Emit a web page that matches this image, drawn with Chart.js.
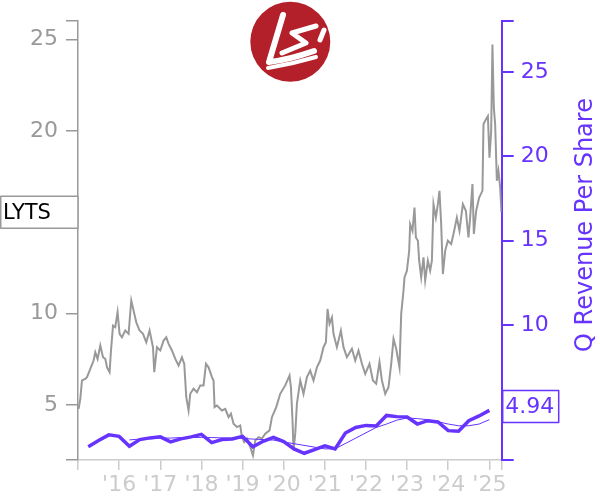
<!DOCTYPE html>
<html><head><meta charset="utf-8">
<script src="https://cdn.jsdelivr.net/npm/chart.js@4.4.1/dist/chart.umd.min.js"></script>
<style>html,body{margin:0;padding:0;background:#fff;}canvas{display:block;}</style>
</head><body>
<canvas id="c" width="600" height="500"></canvas>
<script>
// ---- data ----
const ticker = 'LYTS';
const rightAxisTitle = 'Q Revenue Per Share';
const xTickYears = [2015, 2016, 2017, 2018, 2019, 2020, 2021, 2022, 2023, 2024, 2025];
const xRange = [2015, 2025.3];
const leftRange = [2, 26];
const rightRange = [2, 28];
const leftTickValues = [2, 5, 10, 15, 20, 25, 26];
const rightTickValues = [2, 5, 10, 15, 20, 25, 28];

const priceDates = [
  2015.015, 2015.056, 2015.097, 2015.177, 2015.219, 2015.299, 2015.379, 2015.420, 2015.476, 2015.542,
  2015.608, 2015.663, 2015.705, 2015.768, 2015.802, 2015.851, 2015.906, 2015.962, 2016.011, 2016.069,
  2016.149, 2016.230, 2016.271, 2016.295, 2016.351, 2016.417, 2016.497, 2016.580, 2016.660, 2016.740,
  2016.823, 2016.854, 2016.920, 2017.000, 2017.080, 2017.146, 2017.202, 2017.284, 2017.365, 2017.445,
  2017.527, 2017.583, 2017.632, 2017.688, 2017.729, 2017.809, 2017.892, 2017.972, 2018.052, 2018.111,
  2018.174, 2018.256, 2018.295, 2018.320, 2018.378, 2018.499, 2018.580, 2018.660, 2018.718, 2018.781,
  2018.864, 2018.944, 2018.985, 2019.041, 2019.107, 2019.187, 2019.253, 2019.309, 2019.389, 2019.471,
  2019.552, 2019.656, 2019.714, 2019.819, 2019.916, 2020.038, 2020.142, 2020.176, 2020.215, 2020.239,
  2020.281, 2020.322, 2020.403, 2020.482, 2020.565, 2020.645, 2020.725, 2020.808, 2020.888, 2020.968,
  2021.027, 2021.066, 2021.114, 2021.173, 2021.211, 2021.294, 2021.391, 2021.454, 2021.537, 2021.659,
  2021.739, 2021.819, 2021.902, 2021.982, 2022.086, 2022.169, 2022.249, 2022.329, 2022.388, 2022.468,
  2022.548, 2022.614, 2022.670, 2022.735, 2022.815, 2022.857, 2022.913, 2022.937, 2022.995, 2023.051,
  2023.075, 2023.131, 2023.180, 2023.214, 2023.263, 2023.294, 2023.343, 2023.399, 2023.440, 2023.505,
  2023.561, 2023.603, 2023.642, 2023.700, 2023.749, 2023.787, 2023.829, 2023.870, 2023.926, 2023.991,
  2024.072, 2024.128, 2024.210, 2024.273, 2024.356, 2024.429, 2024.492, 2024.533, 2024.589, 2024.623,
  2024.679, 2024.752, 2024.832, 2024.857, 2024.915, 2024.964, 2025.003, 2025.044, 2025.075, 2025.109,
  2025.141, 2025.182, 2025.221, 2025.263, 2025.294
];
const priceValues = [
  4.80, 5.35, 6.35, 6.44, 6.53, 6.99, 7.44, 7.89, 7.53, 8.26,
  7.62, 7.53, 7.07, 6.80, 7.99, 9.35, 9.26, 10.08, 8.90, 8.71,
  9.08, 8.90, 10.08, 10.72, 10.17, 9.53, 9.08, 8.90, 8.44, 9.08,
  8.17, 6.80, 8.17, 7.99, 8.53, 8.71, 8.35, 7.99, 7.53, 7.17,
  7.62, 7.26, 5.44, 4.71, 5.62, 5.90, 5.71, 6.08, 6.08, 7.26,
  7.07, 6.53, 6.35, 4.89, 4.98, 4.71, 4.80, 4.34, 4.53, 3.98,
  3.80, 3.89, 3.25, 2.98, 3.17, 2.71, 2.25, 3.07, 3.25, 3.17,
  3.44, 3.62, 4.34, 4.89, 5.62, 6.08, 6.62, 5.98, 4.16, 2.53,
  3.44, 5.08, 6.35, 5.62, 6.53, 6.89, 6.35, 7.07, 7.44, 8.17,
  8.44, 10.26, 9.44, 9.80, 8.90, 8.17, 9.08, 8.17, 7.62, 8.08,
  7.44, 7.99, 7.26, 6.71, 7.26, 6.35, 6.17, 7.35, 6.35, 5.62,
  5.98, 7.26, 8.62, 8.08, 7.07, 9.99, 11.26, 11.99, 12.35, 13.44,
  14.90, 14.54, 15.81, 14.17, 13.99, 12.90, 11.99, 13.08, 11.81, 12.90,
  12.35, 12.90, 15.99, 15.26, 15.99, 16.72, 14.90, 12.17, 13.44, 13.99,
  13.81, 14.36, 15.26, 14.54, 15.99, 15.63, 14.17, 15.26, 17.09, 14.36,
  15.63, 16.35, 16.72, 20.36, 20.63, 20.81, 18.54, 19.99, 24.73, 21.27,
  20.36, 17.27, 17.81, 16.90, 15.55
];

const revDates = [
  2015.25, 2015.50, 2015.75, 2016.00, 2016.25, 2016.50, 2016.75, 2017.00, 2017.25, 2017.50,
  2017.75, 2018.00, 2018.25, 2018.50, 2018.75, 2019.00, 2019.25, 2019.50, 2019.75, 2020.00,
  2020.25, 2020.50, 2020.75, 2021.00, 2021.25, 2021.50, 2021.75, 2022.00, 2022.25, 2022.50,
  2022.75, 2023.00, 2023.25, 2023.50, 2023.75, 2024.00, 2024.25, 2024.50, 2024.75, 2025.00
];
const revValues = [
  2.79, 3.15, 3.49, 3.40, 2.81, 3.21, 3.31, 3.37, 3.07, 3.25,
  3.37, 3.52, 3.03, 3.21, 3.25, 3.40, 2.78, 3.11, 3.34, 3.09,
  2.66, 2.40, 2.62, 2.84, 2.66, 3.60, 3.93, 4.05, 4.02, 4.64,
  4.57, 4.55, 4.13, 4.33, 4.25, 3.74, 3.70, 4.33, 4.61, 4.94
];
const revTrend = [
  null, null, null, null, 3.19, 3.24, 3.27, 3.30, 3.30, 3.33,
  3.33, 3.34, 3.33, 3.31, 3.30, 3.28, 3.24, 3.21, 3.18, 3.07,
  null, null, null, 2.66, 2.66, null, null, null, 3.93, 4.13,
  4.36, 4.49, 4.45, 4.39, 4.27, 4.13, 4.03, 4.03, 4.13, 4.39
];

// ---- styling ----
const FONT = 'DejaVu Sans';
const PURPLE = '#6633ff';
const GREY = '#999999';
const LIGHT = '#cccccc';

const toXY = (xs, ys) => xs.map((x, i) => ({x: x, y: ys[i]}));

const overlay = {
  id: 'overlay',
  afterDraw(chart) {
    const ctx = chart.ctx;
    const ca = chart.chartArea;
    const yL = chart.scales.y;
    const yR = chart.scales.y1;
    ctx.save();
    // logo
    ctx.fillStyle = '#b3202a';
    ctx.beginPath();
    ctx.arc(290.3, 41.7, 40, 0, Math.PI * 2);
    ctx.fill();
    ctx.strokeStyle = '#ffffff';
    ctx.lineCap = 'round';
    ctx.lineJoin = 'round';
    ctx.lineWidth = 6;
    ctx.beginPath();
    ctx.moveTo(283, 15); ctx.lineTo(269, 62);
    ctx.quadraticCurveTo(288, 60, 314, 51);
    ctx.stroke();
    ctx.lineWidth = 4;
    ctx.beginPath();
    ctx.moveTo(268, 68); ctx.quadraticCurveTo(292, 64, 316, 57);
    ctx.stroke();
    ctx.lineWidth = 5;
    ctx.beginPath();
    ctx.moveTo(316, 26); ctx.lineTo(292, 33); ctx.lineTo(306, 43); ctx.lineTo(282, 53);
    ctx.stroke();
    ctx.beginPath();
    ctx.moveTo(324, 30); ctx.lineTo(320, 40);
    ctx.stroke();

    // ticker label at last price
    const lastP = priceValues[priceValues.length - 1];
    const py = yL.getPixelForValue(lastP);
    ctx.fillStyle = '#ffffff';
    ctx.fillRect(0, py - 16, ca.left, 32);
    ctx.strokeStyle = GREY;
    ctx.lineWidth = 1.5;
    ctx.strokeRect(0.75, py - 16, ca.left - 0.75, 32);
    ctx.fillStyle = '#000000';
    ctx.font = '21px "' + FONT + '"';
    ctx.textBaseline = 'middle';
    ctx.textAlign = 'left';
    ctx.fillText(ticker, 3, py + 1);

    // last revenue label
    const lastR = revValues[revValues.length - 1];
    const ry = yR.getPixelForValue(lastR) - 4;
    ctx.fillStyle = '#ffffff';
    ctx.fillRect(ca.right + 1, ry - 16, 56, 32);
    ctx.strokeStyle = PURPLE;
    ctx.lineWidth = 1.5;
    ctx.strokeRect(ca.right + 1, ry - 16, 56, 32);
    ctx.fillStyle = PURPLE;
    ctx.font = '22px "' + FONT + '"';
    ctx.fillText(lastR.toFixed(2), ca.right + 3.5, ry + 1);

    // right axis title
    ctx.translate(592, (98 + 352) / 2);
    ctx.rotate(-Math.PI / 2);
    ctx.textAlign = 'center';
    ctx.textBaseline = 'alphabetic';
    ctx.font = '24px "' + FONT + '"';
    ctx.fillText(rightAxisTitle, 0, 0);
    ctx.restore();
  }
};

new Chart(document.getElementById('c'), {
  type: 'line',
  data: {
    datasets: [
      {
        data: toXY(revDates, revValues), yAxisID: 'y1', borderColor: PURPLE, borderWidth: 3.5,
        pointRadius: 0, tension: 0, order: 1
      },
      {
        data: toXY(revDates, revTrend), yAxisID: 'y1', borderColor: PURPLE, borderWidth: 1,
        pointRadius: 0, tension: 0, spanGaps: true, order: 2
      },
      {
        data: toXY(priceDates, priceValues), yAxisID: 'y', borderColor: GREY, borderWidth: 2,
        pointRadius: 0, tension: 0, order: 3
      }
    ]
  },
  options: {
    responsive: false,
    devicePixelRatio: 1,
    animation: false,
    layout: {padding: {top: 20, left: 0, right: 0, bottom: 0}},
    plugins: {legend: {display: false}, tooltip: {enabled: false}},
    scales: {
      x: {
        type: 'linear', min: xRange[0], max: xRange[1],
        afterBuildTicks(s) { s.ticks = xTickYears.concat([xRange[1]]).map(v => ({value: v})); },
        afterFit(s) { s.height = 40; },
        grid: {drawOnChartArea: false, color: LIGHT, tickLength: 10, lineWidth: 1.5},
        border: {color: LIGHT, width: 1.5},
        ticks: {
          autoSkip: false, maxRotation: 0, padding: 2, color: LIGHT,
          font: {family: FONT, size: 22},
          callback: (v) => (Number.isInteger(v) && v > xRange[0]) ? "'" + String(v).slice(2) : ''
        }
      },
      y: {
        position: 'left', min: leftRange[0], max: leftRange[1],
        afterBuildTicks(s) { s.ticks = leftTickValues.map(v => ({value: v})); },
        afterFit(s) { s.width = 78; },
        grid: {drawOnChartArea: false, color: GREY, tickLength: 12, lineWidth: 1.5},
        border: {color: GREY, width: 1.5},
        ticks: {
          autoSkip: false, padding: 8, color: GREY, font: {family: FONT, size: 22},
          callback: (v) => (v % 5 === 0) ? String(v) : ''
        }
      },
      y1: {
        position: 'right', min: rightRange[0], max: rightRange[1],
        afterBuildTicks(s) { s.ticks = rightTickValues.map(v => ({value: v})); },
        afterFit(s) { s.width = 98.3; },
        grid: {drawOnChartArea: false, color: PURPLE, tickLength: 12, lineWidth: 2},
        border: {color: PURPLE, width: 2},
        ticks: {
          autoSkip: false, padding: 7, color: PURPLE, font: {family: FONT, size: 22},
          callback: (v) => (v % 5 === 0) ? String(v) : ''
        }
      }
    }
  },
  plugins: [overlay]
});
</script>
</body></html>
